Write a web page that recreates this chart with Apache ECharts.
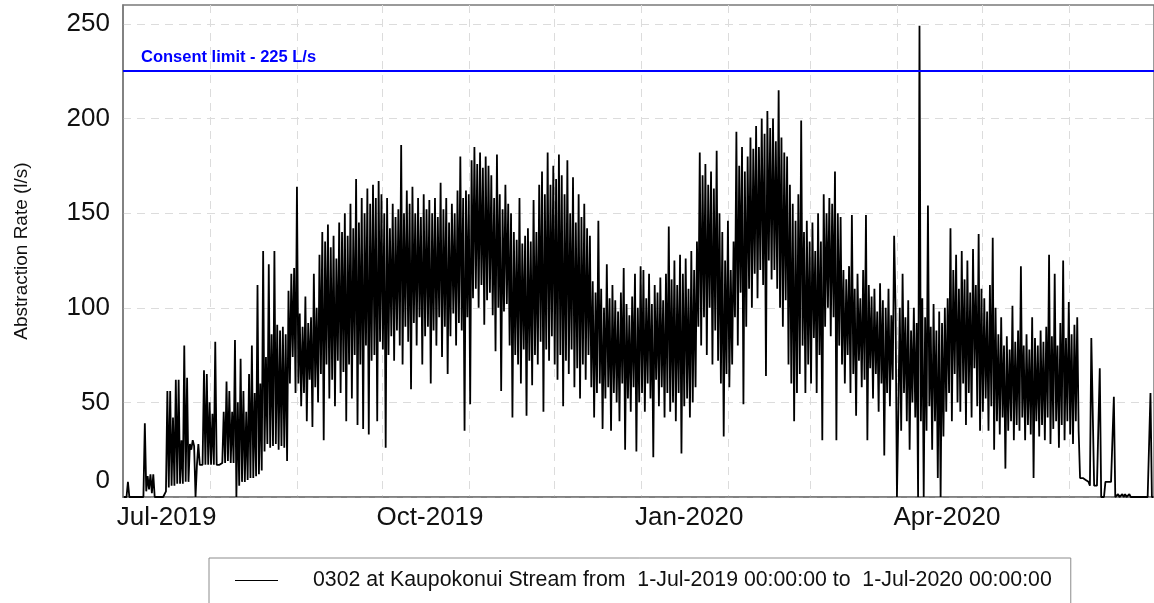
<!DOCTYPE html>
<html>
<head>
<meta charset="utf-8">
<script src="https://cdn.jsdelivr.net/npm/echarts@6/dist/echarts.min.js"></script>
<style>
  html, body { margin: 0; padding: 0; background: #fff; }
  #chart { width: 1154px; height: 603px; }
</style>
</head>
<body>
<div id="chart"></div>
<script>
// ---------------- DATA ----------------
const START = Date.UTC(2019, 6, 1);   // 1-Jul-2019
const END = Date.UTC(2020, 6, 1);     // 1-Jul-2020
const seriesName = '0302 at Kaupokonui Stream from  1-Jul-2019 00:00:00 to  1-Jul-2020 00:00:00';
const consentLimit = 225;
const consentLabel = 'Consent limit - 225 L/s';
const yAxisName = 'Abstraction Rate (l/s)';
const yTicks = [0, 50, 100, 150, 200, 250];
const monthStarts = ['2019-08-01', '2019-09-01', '2019-10-01', '2019-11-01', '2019-12-01', '2020-01-01',
                     '2020-02-01', '2020-03-01', '2020-04-01', '2020-05-01', '2020-06-01'];
const labelDates = ['2019-07-16T12:00:00Z', '2019-10-18T00:00:00Z', '2020-01-18T00:00:00Z', '2020-04-18T12:00:00Z'];
const labelTexts = ['Jul-2019', 'Oct-2019', 'Jan-2020', 'Apr-2020'];

// Abstraction rate (l/s), one morning (06:00) and one evening (18:00) reading per day, 1-Jul-2019 .. 30-Jun-2020
const amFlow = [
  // Jul
  0,0,0,0,0,0,0,0,3,4,2,0,0,0,0,3,5,6,6,7,7,7,8,8,25,27,17,17,17,17,17,
  // Aug
  17,17,17,17,18,18,19,18,18,0,6,8,8,9,10,10,11,12,14,24,28,26,27,28,25,27,26,19,60,74,55,
  // Sep
  60,48,55,40,62,37,58,50,65,30,70,52,62,48,72,55,66,40,70,52,75,38,70,36,80,33,72,75,40,82,
  // Oct
  78,26,75,85,72,88,80,70,90,82,57,92,80,95,70,85,90,60,88,80,95,74,90,65,85,97,80,92,88,35,95,
  // Nov
  49,105,110,100,112,91,104,108,96,77,100,56,98,102,80,42,75,70,60,78,43,72,59,75,70,82,45,78,72,85,
  // Dec
  70,62,75,48,72,65,78,58,68,52,70,62,75,58,42,55,60,36,52,58,35,55,50,40,60,25,52,45,58,24,50,
  // Jan
  55,45,60,52,21,62,48,58,42,55,45,50,40,55,23,48,52,42,50,58,90,80,95,75,100,70,88,72,60,32,65,
  // Feb
  58,70,95,80,108,49,90,110,100,118,105,120,112,64,125,115,120,110,100,90,104,70,60,40,55,65,80,55,70,
  // Mar
  60,84,55,75,30,90,100,85,95,30,80,70,60,75,55,65,43,72,58,62,30,68,52,65,45,60,22,55,48,62,100,
  // Apr
  45,35,55,40,25,50,42,0,40,0,35,48,25,40,10,0,32,45,55,40,65,50,45,60,38,55,42,68,48,35,
  // May
  45,52,35,48,25,40,33,42,15,35,40,30,38,35,42,30,38,33,10,40,32,38,30,42,28,36,40,26,38,30,40,
  // Jun
  33,28,40,35,10,10,8,6,84,6,6,0,0,8,8,9,0,1.5,0,0,0,1.5,0,0,0,0,0,0,0,0
];
const pmFlow = [
  // Jul
  0,8,0,0,0,0,0,39,11,12,12,0,0,0,0,56,56,42,62,62,30,80,63,28,30,0,28,18,67,65,50,
  // Aug
  44,82,18,18,45,61,56,45,83,50,73,56,45,65,80,55,112,60,130,74,123,86,130,91,88,90,86,109,118,121,164,
  // Sep
  97,90,106,92,95,118,100,128,140,135,144,132,138,126,145,140,150,138,155,142,168,145,158,150,163,155,165,158,167,160,
  // Oct
  150,158,142,155,148,152,186,150,162,155,164,150,158,148,160,152,157,150,158,148,166,152,158,145,155,150,162,180,158,162,160,
  // Nov
  178,185,176,182,174,180,175,170,158,181,160,152,165,155,150,140,136,158,134,138,142,135,157,140,165,172,160,182,165,175,
  // Dec
  168,181,170,160,178,150,169,145,160,148,155,142,138,114,108,146,110,100,123,105,112,104,98,108,121,102,96,106,118,100,122,
  // Jan
  120,105,118,102,112,108,116,104,118,143,115,125,112,128,118,126,110,130,120,135,182,170,176,165,172,163,183,150,140,125,146,
  // Feb
  120,135,193,175,185,172,180,190,184,196,185,200,192,204,195,200,188,215,190,182,180,165,155,146,160,199,140,146,135,
  // Mar
  145,130,150,135,160,150,158,155,172,150,148,120,115,122,149,110,118,105,120,149,112,106,110,98,113,104,100,110,96,138,0,
  // Apr
  100,118,95,104,88,100,92,249,105,95,154,90,102,88,98,92,100,105,142,120,128,110,130,115,125,108,131,112,139,110,
  // May
  105,98,112,137,100,86,95,80,85,78,101,82,88,122,80,86,78,95,84,80,88,82,90,128,85,118,80,92,125,84,103,
  // Jun
  86,91,95,10,10,9,8,84,6,6,68,0,8,8,8,53,0,0,1.5,1.5,0,0,0,0,0,0,0,0,55,0
];

// ---------------- BUILD ----------------
const DAY = 86400000, HOUR = 3600000;
const points = [];
for (let d = 0; d < amFlow.length; d++) {
  points.push([START + d * DAY + 6 * HOUR, amFlow[d]]);
  points.push([START + d * DAY + 18 * HOUR, pmFlow[d]]);
}
const labelValues = labelDates.map(s => Date.parse(s));
const labelMap = {};
labelValues.forEach((v, i) => { labelMap[v] = labelTexts[i]; });
const gridValues = monthStarts.map(s => Date.parse(s + 'T00:00:00Z'));

const FONT = 'Arial, "Liberation Sans", Helvetica, sans-serif';
const GRIDLINE = { color: '#dcdcdc', type: [8, 6], width: 1 };
const BORDER = '#7a7a7a';

const chart = echarts.init(document.getElementById('chart'), null, { renderer: 'canvas' });
chart.setOption({
  animation: false,
  backgroundColor: '#fff',
  textStyle: { fontFamily: FONT },
  grid: {
    left: 123, top: 5, right: -5, bottom: 106,
    show: true, borderColor: BORDER, borderWidth: 1.5, backgroundColor: 'transparent'
  },
  legend: {
    data: [{ name: seriesName, icon: 'rect', itemStyle: { color: '#000' } }],
    left: 209, top: 558,
    padding: [12, 19, 40, 26],
    borderColor: '#8c8c8c', borderWidth: 1,
    backgroundColor: '#fff',
    itemWidth: 43, itemHeight: 1.2,
    selectedMode: false,
    formatter: n => '{a|' + n + '}',
    textStyle: {
      rich: { a: { padding: [0, 0, 0, 30], fontSize: 21.3, color: '#111', fontFamily: FONT } }
    }
  },
  xAxis: {
    type: 'value', min: START, max: END,
    axisLine: { show: true, onZero: false, lineStyle: { color: BORDER, width: 1.5 } },
    axisTick: { show: false, customValues: gridValues },
    splitLine: { show: true, lineStyle: GRIDLINE },
    axisLabel: {
      customValues: labelValues,
      formatter: v => labelMap[v] || '',
      fontSize: 26, color: '#111', margin: 8, fontFamily: FONT
    }
  },
  yAxis: {
    type: 'value', min: 0, max: 260, interval: 50,
    name: yAxisName, nameLocation: 'middle', nameGap: 92, nameRotate: 90,
    nameTextStyle: { fontSize: 19, color: '#111', fontFamily: FONT },
    axisLine: { show: true, lineStyle: { color: BORDER, width: 1.5 } },
    axisTick: { show: false, customValues: yTicks },
    splitLine: { show: true, lineStyle: GRIDLINE },
    axisLabel: {
      customValues: yTicks,
      formatter: v => (v === 0 ? '{z|0}' : String(v)),
      fontSize: 26, color: '#111', margin: 13, fontFamily: FONT,
      rich: { z: { fontSize: 26, color: '#111', fontFamily: FONT, padding: [0, 0, 32, 0] } }
    }
  },
  series: [{
    name: seriesName,
    type: 'line',
    data: points,
    symbol: 'none', showSymbol: false,
    lineStyle: { color: '#000', width: 1.8 },
    itemStyle: { color: '#000' },
    z: 2,
    markLine: {
      silent: true,
      symbol: ['none', 'none'],
      lineStyle: { color: '#0000ff', width: 2, type: 'solid' },
      label: {
        show: true, position: 'insideStartTop', distance: [18, 5],
        formatter: consentLabel, color: '#0000ff', fontWeight: 'bold', fontSize: 16.5, fontFamily: FONT
      },
      data: [{ yAxis: consentLimit }]
    }
  }]
});
</script>
</body>
</html>
